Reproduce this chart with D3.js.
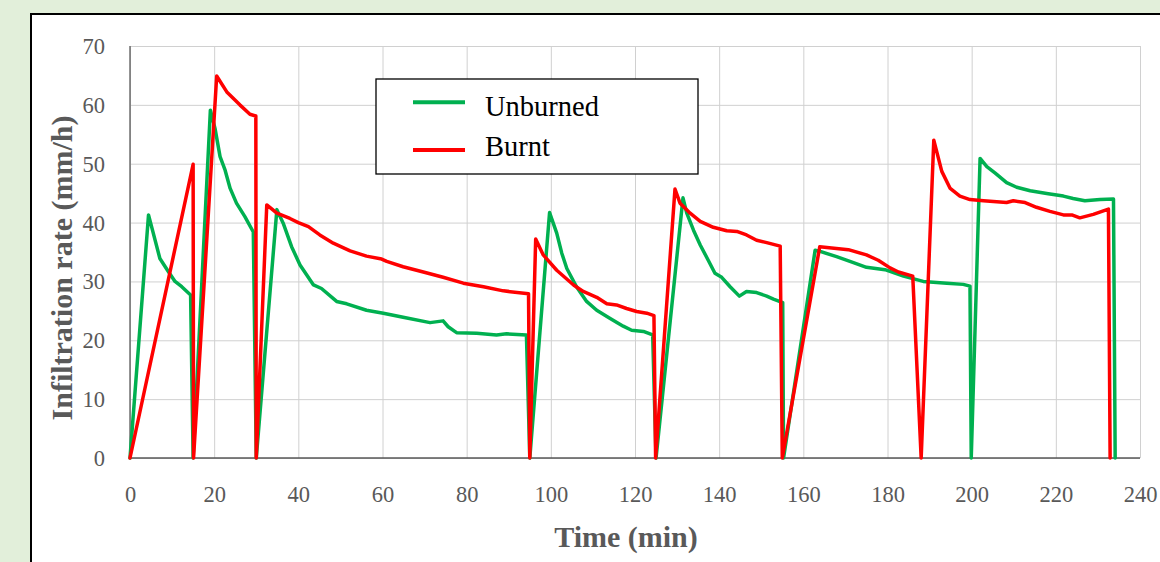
<!DOCTYPE html>
<html>
<head>
<meta charset="utf-8">
<script src="https://cdn.jsdelivr.net/npm/d3@7"></script>
<style>
  html, body { margin: 0; padding: 0; background: #e2efda; }
  svg { display: block; }
</style>
</head>
<body>
<svg id="chart" width="1160" height="562"></svg>
<script>
// Infiltration rate over time for unburned and burnt plots (repeated ponding runs)
const unburnedTime = [0, 4.4, 7.1, 9.1, 10.7, 12.3, 14.4, 15.0, 19.1, 20.2, 21.4, 22.6, 23.8, 25.3, 27.3, 29.3, 30.0,
  34.9, 36.4, 38.4, 40.4, 43.6, 45.5, 49.1, 51.5, 56.2, 60.2, 64.9, 71.3, 74.4, 75.6, 77.6, 82.4, 87.1, 89.5, 94.2, 95.0,
  99.7, 101.4, 102.6, 103.8, 106.1, 108.5, 110.9, 114.1, 117.2, 119.2, 122.0, 124.2, 125.0,
  131.4, 132.3, 133.9, 135.5, 137.4, 139.0, 140.6, 142.6, 144.8, 146.5, 148.9, 151.3, 152.9, 155.1, 155.3,
  162.8, 164.0, 167.9, 171.9, 175.0, 179.4, 183.8, 188.5, 194.1, 198.0, 199.6, 199.9,
  202.0, 203.6, 205.6, 208.3, 210.7, 213.9, 218.2, 221.8, 224.1, 226.9, 230.5, 233.7, 234.1];
const unburnedRate = [0, 41.3, 33.9, 31.7, 30.0, 29.1, 27.7, 0, 59.1, 56.0, 51.2, 48.9, 45.8, 43.3, 41.0, 38.4, 0,
  42.2, 39.9, 35.9, 32.8, 29.4, 28.8, 26.6, 26.2, 25.1, 24.6, 23.9, 23.0, 23.3, 22.3, 21.3, 21.2, 20.9, 21.1, 20.9, 0,
  41.7, 38.2, 34.8, 32.2, 29.1, 26.6, 25.1, 23.7, 22.4, 21.7, 21.5, 20.9, 0,
  44.2, 41.6, 38.7, 36.2, 33.6, 31.4, 30.7, 29.1, 27.5, 28.3, 28.1, 27.5, 27.0, 26.4, 0,
  35.3, 35.1, 34.2, 33.2, 32.4, 32.0, 30.9, 30.0, 29.7, 29.5, 29.2, 0,
  50.9, 49.5, 48.4, 46.8, 46.0, 45.4, 44.9, 44.5, 44.1, 43.7, 43.9, 44.0, 0];

const burntTime = [0, 15.0, 15.1, 20.6, 23.0, 26.1, 28.5, 29.9, 30.0,
  32.5, 34.9, 38.0, 40.0, 42.4, 45.1, 48.3, 52.3, 56.2, 59.8, 61.0, 64.9, 69.7, 74.4, 79.2, 84.0, 88.7, 94.7, 95.0,
  96.4, 98.2, 101.4, 105.4, 107.7, 110.9, 113.3, 115.6, 118.0, 120.4, 122.8, 124.5, 124.9,
  129.5, 130.7, 133.1, 135.5, 138.6, 141.8, 144.2, 146.5, 148.9, 151.3, 154.5, 155.0,
  163.9, 170.7, 175.0, 177.8, 180.6, 182.6, 186.0, 188.0,
  191.0, 192.9, 194.9, 197.2, 199.6, 202.8, 208.3, 209.9, 212.7, 215.4, 218.6, 221.8, 223.8, 225.7, 228.9, 232.5, 232.9];
const burntRate = [0, 49.9, 0, 64.9, 62.2, 60.0, 58.4, 58.1, 0,
  43.0, 41.6, 40.7, 40.0, 39.3, 37.9, 36.5, 35.2, 34.3, 33.8, 33.4, 32.5, 31.6, 30.7, 29.7, 29.1, 28.4, 27.9, 0,
  37.2, 34.5, 31.9, 29.4, 28.3, 27.3, 26.2, 26.0, 25.4, 24.9, 24.6, 24.2, 0,
  45.7, 43.3, 41.6, 40.2, 39.2, 38.6, 38.5, 37.9, 37.0, 36.6, 36.0, 0,
  35.9, 35.4, 34.5, 33.6, 32.3, 31.6, 30.9, 0,
  54.0, 48.7, 45.8, 44.5, 43.9, 43.7, 43.4, 43.7, 43.4, 42.6, 41.9, 41.3, 41.3, 40.8, 41.4, 42.3, 0];

const seriesNames = ["Unburned", "Burnt"];
const seriesColors = ["#00b050", "#ff0000"];
const xTicks = [0, 20, 40, 60, 80, 100, 120, 140, 160, 180, 200, 220, 240];
const yTicks = [0, 10, 20, 30, 40, 50, 60, 70];

const FONT = "'Liberation Serif', 'Times New Roman', serif";
const svg = d3.select("#chart");

// panel
svg.append("rect").attr("width", 1160).attr("height", 562).attr("fill", "#e2efda");
svg.append("rect")
  .attr("x", 31).attr("y", 14).attr("width", 1200).attr("height", 600)
  .attr("fill", "#fff").attr("stroke", "#000").attr("stroke-width", 2);

const x = d3.scaleLinear().domain([0, 240]).range([130, 1140]);
const y = d3.scaleLinear().domain([0, 70]).range([458, 46]);

// gridlines
svg.append("g")
  .attr("transform", `translate(0,${y(0)})`)
  .call(d3.axisBottom(x).tickValues(xTicks).tickSize(-(y(0) - y(70))).tickFormat(""))
  .call(g => g.select(".domain").remove())
  .call(g => g.selectAll("line").attr("stroke", "#d0d0d0").attr("stroke-width", 1));
svg.append("g")
  .attr("transform", `translate(${x(0)},0)`)
  .call(d3.axisLeft(y).tickValues(yTicks).tickSize(-(x(240) - x(0))).tickFormat(""))
  .call(g => g.select(".domain").remove())
  .call(g => g.selectAll("line").attr("stroke", "#d0d0d0").attr("stroke-width", 1));

// axis lines
svg.append("line").attr("x1", x(0)).attr("x2", x(0)).attr("y1", y(70)).attr("y2", y(0))
  .attr("stroke", "#595959").attr("stroke-width", 1.3);
svg.append("line").attr("x1", x(0)).attr("x2", x(240)).attr("y1", y(0)).attr("y2", y(0))
  .attr("stroke", "#595959").attr("stroke-width", 1.5);

// tick labels
const xAxis = svg.append("g")
  .attr("transform", `translate(0,${y(0)})`)
  .call(d3.axisBottom(x).tickValues(xTicks).tickSize(0).tickFormat(d3.format("d")));
xAxis.select(".domain").remove();
xAxis.selectAll("text")
  .attr("y", 44).attr("dy", null)
  .attr("fill", "#595959").style("font-family", FONT).style("font-size", "22.5px");

const yAxis = svg.append("g")
  .attr("transform", `translate(${x(0)},0)`)
  .call(d3.axisLeft(y).tickValues(yTicks).tickSize(0).tickPadding(25).tickFormat(d3.format("d")));
yAxis.select(".domain").remove();
yAxis.selectAll("text")
  .attr("dy", "0.33em")
  .attr("fill", "#595959").style("font-family", FONT).style("font-size", "22.5px");

// axis titles
svg.append("text")
  .attr("x", 626).attr("y", 547).attr("text-anchor", "middle")
  .attr("fill", "#595959").style("font-family", FONT).style("font-size", "30px").style("font-weight", "bold")
  .text("Time (min)");
svg.append("text")
  .attr("transform", "translate(71.5,268) rotate(-90)").attr("text-anchor", "middle")
  .attr("fill", "#595959").style("font-family", FONT).style("font-size", "30px").style("font-weight", "bold")
  .text("Infiltration rate (mm/h)");

// series
const line = d3.line().x(d => x(d[0])).y(d => y(d[1]));
const series = [
  d3.zip(unburnedTime, unburnedRate),
  d3.zip(burntTime, burntRate)
];
svg.append("g").selectAll("path")
  .data(series)
  .join("path")
  .attr("d", line)
  .attr("fill", "none")
  .attr("stroke", (d, i) => seriesColors[i])
  .attr("stroke-width", 3.5)
  .attr("stroke-linejoin", "round")
  .attr("stroke-linecap", "round");

// legend
const legend = svg.append("g");
legend.append("rect")
  .attr("x", 376).attr("y", 79).attr("width", 322).attr("height", 95)
  .attr("fill", "#fff").attr("stroke", "#000").attr("stroke-width", 1.3);
const legendLineY = [102.3, 150];
const legendTextY = [115.7, 156];
const items = legend.selectAll("g.item").data(seriesNames).join("g").attr("class", "item");
items.append("line")
  .attr("x1", 413).attr("x2", 465)
  .attr("y1", (d, i) => legendLineY[i]).attr("y2", (d, i) => legendLineY[i])
  .attr("stroke", (d, i) => seriesColors[i]).attr("stroke-width", 4);
items.append("text")
  .attr("x", 485).attr("y", (d, i) => legendTextY[i])
  .attr("fill", "#000").style("font-family", FONT).style("font-size", "28.5px")
  .text(d => d);
</script>
</body>
</html>
